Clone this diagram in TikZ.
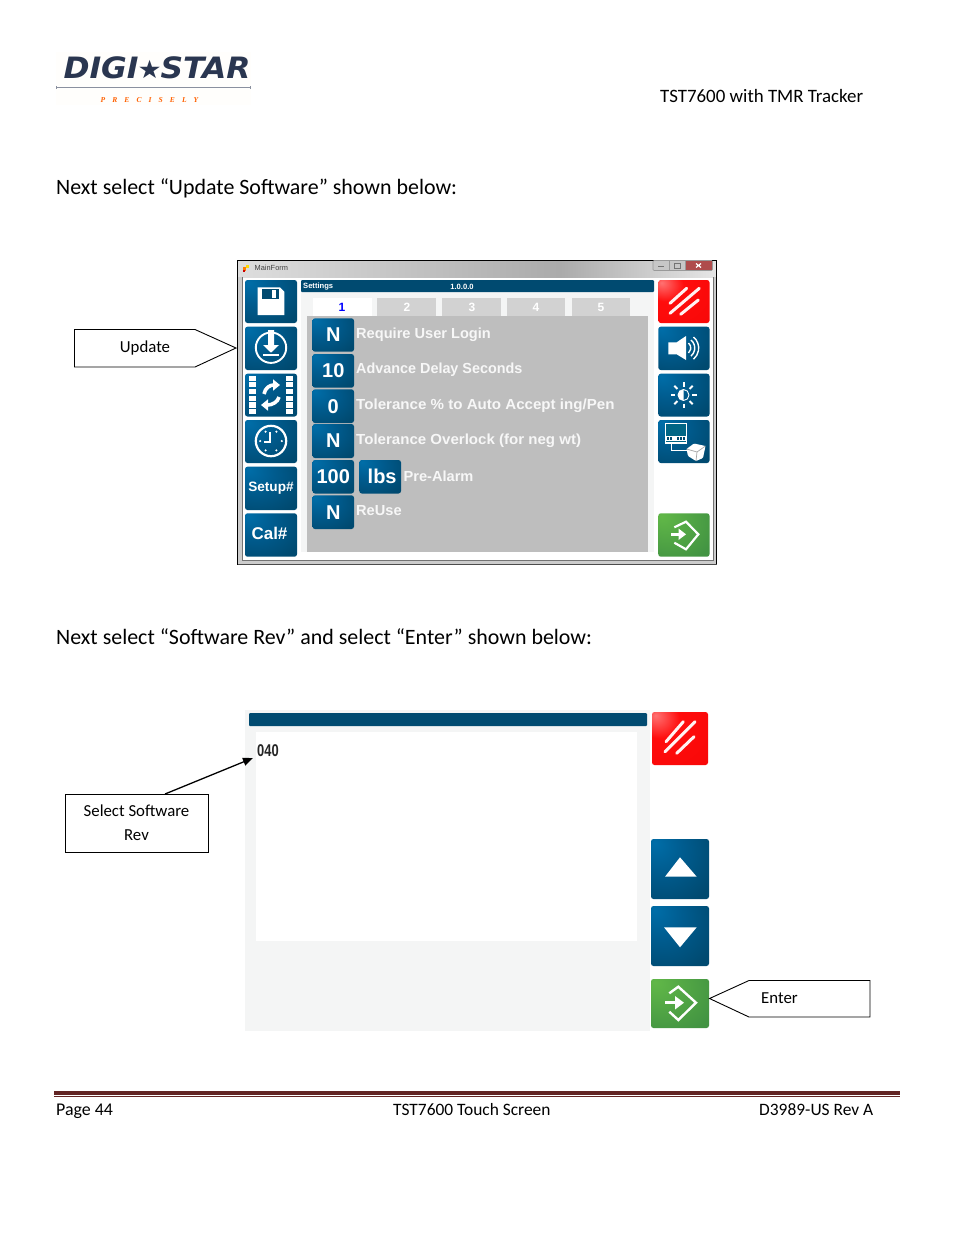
\documentclass[tikz,border=0pt]{standalone}
\usepackage{graphicx}
\usepackage{fontspec}
\setmainfont{Carlito}
\newfontfamily\uif{Liberation Sans}
\newfontfamily\serf{Liberation Serif}
\newfontfamily\djv{DejaVu Sans}
\usetikzlibrary{arrows.meta,calc}
\pgfdeclareradialshading{btnblue}{\pgfpoint{-22bp}{22bp}}{rgb(0bp)=(0,0.43,0.66);rgb(20bp)=(0,0.36,0.56);rgb(45bp)=(0,0.29,0.44);rgb(100bp)=(0,0.27,0.40)}
\pgfdeclareradialshading{btnred}{\pgfpoint{-22bp}{22bp}}{rgb(0bp)=(1,0.45,0.45);rgb(18bp)=(1,0.05,0.05);rgb(100bp)=(0.93,0,0)}
\pgfdeclareradialshading{btngreen}{\pgfpoint{-22bp}{22bp}}{rgb(0bp)=(0.38,0.72,0.28);rgb(45bp)=(0.26,0.58,0.26);rgb(100bp)=(0.22,0.52,0.25)}
\definecolor{barblue}{HTML}{004A70}
\definecolor{panelgray}{HTML}{BEBEBE}
\definecolor{tabgray}{HTML}{D2D2D2}
\definecolor{strip}{HTML}{F4F5F5}
\definecolor{navy}{HTML}{2A3650}
\definecolor{rulered}{HTML}{622423}
\tikzset{
 txt/.style={inner sep=0pt,anchor=west,text=black},
 heading/.style={txt,font=\fontsize{21.93}{24}\selectfont},
 small/.style={txt,font=\fontsize{17.4}{20}\selectfont},
 label/.style={txt,text=white!97!black,font=\uif\bfseries\fontsize{14.6}{16}\selectfont},
 tabtxt/.style={inner sep=0pt,text=white,font=\uif\bfseries\fontsize{12}{14}\selectfont},
 call/.style={draw=black,line width=.9pt,fill=white,line join=miter},
 calltxt/.style={inner sep=0pt,align=center,text=black,font=\fontsize{16.8}{24}\selectfont},
 ico/.style={white,line width=1.9pt},
 slash/.style={white!95!red,line width=3pt,line cap=round},
}
\newcommand\btn[7]{%
 \pgfmathsetmacro\bw{#4-#2}\pgfmathsetmacro\bh{#5-#3}%
 \pgfmathsetmacro\bx{(#2+#4)/2}\pgfmathsetmacro\by{(#3+#5)/2}%
 \node[inner sep=0pt,minimum width=\bw pt,minimum height=\bh pt,rounded corners=2.5pt,shading=#6,text=white,
   font=\uif\bfseries] (#1) at (\bx,\by) {#7};}
\newcommand\bigt[1]{\fontsize{20}{22}\selectfont #1}
\begin{document}
\begin{tikzpicture}[x=1pt,y=-1pt]
\useasboundingbox (0,0) rectangle (954,1235);
\fill[white] (0,0) rectangle (954,1235);
% logo
\fill[white!99!orange] (56,52) rectangle (251,105);
\node[inner sep=0pt,anchor=center,text=navy] (logoa) at (157,68) {\scalebox{1.12}[1.05]{\djv\bfseries\itshape\fontsize{28}{30}\selectfont DIGI\kern-1pt{\fontsize{24}{26}\selectfont ★}\kern-1pt STAR}};
\draw[line width=1pt,draw=navy!55!white] (56.5,87.5) -- (250.5,87.5);
\draw[line width=.8pt,draw=navy!55!white] (56.5,86) -- (56.5,89) (250.5,86) -- (250.5,89);
\node[inner sep=0pt,anchor=center,text=orange!75!red] (logob) at (149.5,100) {\serf\bfseries\itshape\fontsize{7.5}{9}\selectfont P\hspace{7.1pt}R\hspace{7.1pt}E\hspace{7.1pt}C\hspace{7.1pt}I\hspace{7.1pt}S\hspace{7.1pt}E\hspace{7.1pt}L\hspace{7.1pt}Y};
% page text
\node[txt,font=\fontsize{18.9}{22}\selectfont] (hdr) at (660,96.5) {TST7600 with TMR Tracker};
\node[heading] (h1) at (56,188.5) {Next select “Update Software” shown below:};
\node[heading] (h2) at (56,637) {Next select “Software Rev” and select “Enter” shown below:};
% window
\fill[white] (237.5,260.5) rectangle (716.5,564.5);
\shade[left color=black!13,right color=black!33] (238,261) rectangle (560,277);
\shade[left color=black!33,right color=black!10] (560,261) rectangle (716,277);
\fill[black!20] (238,277) rectangle (242,560);
\fill[black!20] (713,277) rectangle (716,560);
\fill[black!20] (238,560) rectangle (716,564);
\draw[black,line width=1pt] (237.5,564.5) -- (237.5,260.5) -- (716.5,260.5) -- (716.5,564.5);
\draw[black!70,line width=1.2pt] (237.5,564.5) -- (716.5,564.5);
\draw[black!55,line width=.6pt] (242,277) -- (242,560) -- (713,560) -- (713,277);
\fill[orange] (243,267) rectangle (246,271);
\fill[yellow!80!orange] (245.5,264.5) rectangle (249,268);
\fill[red!80!black] (243,270) rectangle (245,272);
\node[txt,text=black!75,font=\uif\fontsize{7.4}{9}\selectfont] (mf) at (254.5,268) {MainForm};
% window buttons
\draw[black!40,fill=black!22,rounded corners=1pt,line width=.6pt] (653,260.5) rectangle (712.5,270.5);
\fill[red!55!black!70] (685,261) rectangle (712,270);
\draw[black!40,line width=.6pt] (669,260.5) -- (669,270.5) (685,260.5) -- (685,270.5);
\draw[black!55,line width=1pt] (658,266.5) -- (664,266.5);
\draw[black!55,line width=.8pt] (674,263) rectangle (680,268);
\draw[white,line width=1.2pt] (696,263.5) -- (701,267.5) (701,263.5) -- (696,267.5);
% content area
\fill[strip] (301,292) rectangle (654,552);
\fill[barblue,rounded corners=1pt] (301,280) rectangle (654,292);
\node[txt,text=white,font=\uif\bfseries\fontsize{7.6}{9}\selectfont] (st) at (303,287) {Settings};
\node[inner sep=0pt,text=white,font=\uif\bfseries\fontsize{7.6}{9}\selectfont] (ver) at (462,287) {1.0.0.0};
\fill[panelgray] (306.7,315.5) rectangle (647.7,551.7);
\fill[white] (312.7,297.7) rectangle (371.7,315.5);
\fill[tabgray] (377,297.7) rectangle (436,315.5);
\fill[tabgray] (441.7,297.7) rectangle (501,315.5);
\fill[tabgray] (506.7,297.7) rectangle (565,315.5);
\fill[tabgray] (571.7,297.7) rectangle (630,315.5);
\node[tabtxt,text=blue] (t1) at (342,307) {1};
\node[tabtxt] (t2) at (407,307) {2};
\node[tabtxt] (t3) at (472,307) {3};
\node[tabtxt] (t4) at (536,307) {4};
\node[tabtxt] (t5) at (601,307) {5};
% left buttons
\btn{b1}{245}{280}{297}{323}{btnblue}{}
\btn{b2}{245}{326.7}{297}{370}{btnblue}{}
\btn{b3}{245}{373.7}{297}{416.5}{btnblue}{}
\btn{b4}{245}{420}{297}{463}{btnblue}{}
\btn{b5}{245}{466.7}{297}{510}{btnblue}{\fontsize{13.6}{15}\selectfont Setup\#}
\btn{b6}{245}{513.3}{297}{556.7}{btnblue}{\kern-3pt\raisebox{4pt}{\fontsize{17}{19}\selectfont Cal\#}}
% right buttons
\btn{r1}{658.3}{280}{709.5}{323}{btnred}{}
\btn{r2}{658.3}{326.7}{709.5}{370}{btnblue}{}
\btn{r3}{658.3}{373.7}{709.5}{416.5}{btnblue}{}
\btn{r4}{658.3}{420}{709.5}{463}{btnblue}{}
\btn{r5}{658.3}{513.3}{709.5}{556.7}{btngreen}{}
% panel buttons
\btn{p1}{312.5}{318.3}{354}{351.7}{btnblue}{\bigt{N}}
\btn{p2}{312.5}{354}{354}{387.7}{btnblue}{\bigt{10}}
\btn{p3}{312.5}{389.3}{354}{423}{btnblue}{\bigt{0}}
\btn{p4}{312.5}{424}{354}{458}{btnblue}{\bigt{N}}
\btn{p5}{312.5}{460}{354}{493.5}{btnblue}{\bigt{100}}
\btn{p6}{359.3}{460}{401}{493.5}{btnblue}{\kern4pt\bigt{lbs}}
\btn{p7}{312.5}{495.3}{354}{529}{btnblue}{\bigt{N}}
\node[label] (l1) at (356,334.5) {Require User Login};
\node[label] (l2) at (356,370) {\scalebox{.985}[1]{Advance Delay Seconds}};
\node[label] (l3) at (356,405.5) {\scalebox{1.035}[1]{Tolerance \% to Auto Accept ing/Pen}};
\node[label] (l4) at (356,441) {\scalebox{1.032}[1]{Tolerance Overlock (for neg wt)}};
\node[label] (l5) at (403.5,476) {Pre-Alarm};
\node[label] (l6) at (356,511) {ReUse};
% save icon
\fill[white] (257.7,287.3) -- (280,287.3) -- (284.3,291.7) -- (284.3,315) -- (257.7,315) -- cycle;
\fill[barblue] (262.3,288.5) rectangle (279,299);
\fill[white] (271.7,290) rectangle (275.7,297.7);
% download icon
\draw[ico] (271,347.7) circle (15.2);
\fill[white] (268,330) -- (274,330) -- (274,345) -- (279,345) -- (271,352.7) -- (263,345) -- (268,345) -- cycle;
\fill[white] (263,354) rectangle (279,356.3);
% transfer icon
\foreach \yy in {375.5,382.2,388.9,395.6,402.3,409} {
 \fill[white] (249.3,\yy) rectangle (256,\yy+5.2);
 \fill[white] (285.7,\yy) rectangle (292.7,\yy+5.2);
}
\draw[white,line width=3.6pt,-{Triangle[length=7pt,width=11pt]}] (264,394) .. controls (265,388) and (270,385) .. (280,385);
\draw[white,line width=3.6pt,-{Triangle[length=7pt,width=11pt]}] (279,397) .. controls (278,402) and (272,405) .. (261,405);
% clock icon
\draw[ico,line width=2.2pt] (271,441) circle (15.2);
\draw[white,line width=1.8pt] (270,432) -- (270,442) -- (264,442);
\foreach \a in {0,60,120,180,240,300} \fill[white] ($(271,441)+(\a:10.8)$) circle (1.2);
% red slashes 1
\draw[slash] (670,303.3) -- (686.7,288.3);
\draw[slash] (670,313.3) -- (699.3,288.3);
\draw[slash] (680.7,314.3) -- (698.3,300);
% speaker icon
\fill[white] (668.3,342.3) -- (676.7,342.3) -- (686,336) -- (686,360) -- (676.7,354.3) -- (668.3,354.3) -- cycle;
\draw[white,line width=1.4pt] (688.5,343) arc[start angle=-50,end angle=50,radius=6.5];
\draw[white,line width=1.4pt] (691,340) arc[start angle=-50,end angle=50,radius=10.5];
\draw[white,line width=1.4pt] (693.5,337) arc[start angle=-50,end angle=50,radius=14.5];
% sun icon
\foreach \a in {0,45,...,315} \draw[white,line width=2pt] ($(683.5,395)+(\a:8.5)$) -- ($(683.5,395)+(\a:13)$);
\draw[white,line width=.9pt] (683.5,395) circle (5.5);
\fill[white] (683.5,389.5) arc[start angle=-90,end angle=-270,radius=5.5] -- cycle;
% network icon
\draw[white,fill=barblue!85!cyan,line width=1.3pt] (665.5,423.5) rectangle (686.5,443);
\fill[white] (666,436) rectangle (686,441);
\foreach \xx in {667,670,677,680,683} \fill[barblue] (\xx,437.3) rectangle (\xx+1.8,439.7);
\draw[white,line width=1pt] (671.7,443) -- (671.7,450.7) -- (688,450.7);
\fill[white,rounded corners=1pt] (686.5,449) -- (694,443.5) -- (705.5,446) -- (703,458) -- (696,461) -- (688,456) -- cycle;
\draw[black!35,line width=.7pt] (686.5,449) -- (697,452) -- (705.5,446) (697,452) -- (696,461);
% enter icon 1
\draw[white,line width=2.2pt,line join=miter] (674.3,527.3) -- (686,521.7) -- (698.3,534.3) -- (686,549.3) -- (674.3,542.7);
\draw[white,line width=3.6pt] (671,534.3) -- (680,534.3);
\fill[white] (678.5,528.5) -- (686,534.3) -- (678.5,540) -- cycle;
% Update callout
\draw[call] (74.5,329.5) -- (195,329.5) -- (236,348) -- (195,367) -- (74.5,367) -- cycle;
\node[calltxt] (upd) at (145,348) {Update};
% second image
\fill[strip] (245,710) rectangle (650,1031);
\fill[barblue,rounded corners=1pt] (249,713) rectangle (647,726);
\fill[white] (256,732) rectangle (637,941);
\node[txt,text=black!85,font=\uif\bfseries\fontsize{17}{19}\selectfont] (sw) at (257,750.5) {\scalebox{.76}[1]{040}};
\btn{s1}{652}{712}{708}{765}{btnred}{}
\btn{s2}{651}{839}{709}{899}{btnblue}{}
\btn{s3}{651}{906}{709}{966}{btnblue}{}
\btn{s4}{651}{979}{709}{1028}{btngreen}{}
\draw[slash] (666,741.7) -- (683.3,721.7);
\draw[slash] (665,751.7) -- (695,721.7);
\draw[slash] (676.7,753.3) -- (694,736.7);
\fill[white] (665,876.7) -- (680,857.3) -- (696.7,876.7) -- cycle;
\fill[white] (664,927.3) -- (696.7,927.3) -- (680,947.3) -- cycle;
\draw[white,line width=2.4pt,line join=miter] (669.3,993.3) -- (678.3,986.7) -- (696,1002.7) -- (678.3,1020) -- (669.3,1011.7);
\draw[white,line width=3.4pt] (665,1002.7) -- (677,1002.7);
\fill[white] (675,996) -- (684,1002.7) -- (675,1009.5) -- cycle;
% Enter callout
\draw[call] (709.5,998.5) -- (749,980.5) -- (870,980.5) -- (870,1017) -- (749,1017) -- cycle;
\node[calltxt] (ent) at (779.5,998) {Enter};
% Select callout
\node[draw=black,line width=.9pt,fill=white,inner sep=0pt,minimum width=143pt,minimum height=58pt,align=center,text=black,font=\fontsize{16.8}{24}\selectfont] (sel) at (136.5,823) {Select Software\\Rev};
\coordinate (selout) at (165,794);
\coordinate (selin) at (253,758);
\draw[black,line width=1.3pt,-{Triangle[length=10pt,width=8pt]}] (selout) -- (selin);
% footer
\fill[rulered] (54,1091) rectangle (900,1095);
\fill[rulered] (54,1096) rectangle (900,1097);
\node[txt,font=\fontsize{17.9}{20}\selectfont] (f1) at (56,1111) {Page 44};
\node[small] (f2) at (393,1109.5) {TST7600 Touch Screen};
\node[small] (f3) at (759,1109.5) {D3989-US Rev A};
\end{tikzpicture}
\end{document}
